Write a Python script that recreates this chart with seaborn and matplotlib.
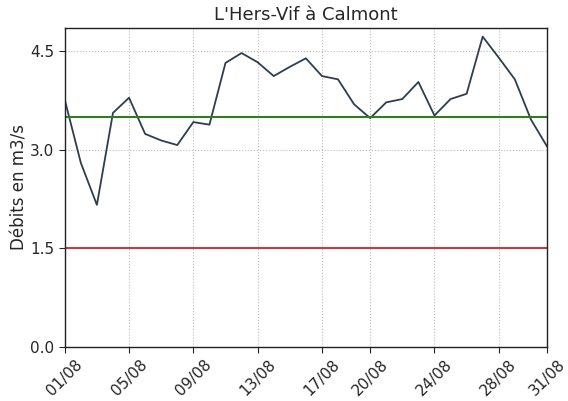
import pandas as pd
import matplotlib
matplotlib.use("Agg")
import matplotlib.pyplot as plt
import seaborn as sns

days = list(range(1, 32))
debits = [3.76, 2.80, 2.16, 3.56, 3.79, 3.24, 3.14, 3.07, 3.42, 3.38,
          4.32, 4.47, 4.33, 4.12, 4.26, 4.39, 4.12, 4.07, 3.69, 3.48,
          3.72, 3.77, 4.03, 3.52, 3.77, 3.85, 4.72, 4.40, 4.07, 3.46, 3.05]
tick_days = [1, 5, 9, 13, 17, 20, 24, 28, 31]
tick_labels = ["01/08", "05/08", "09/08", "13/08", "17/08", "20/08", "24/08", "28/08", "31/08"]
seuil_haut = 3.5
seuil_bas = 1.5

df = pd.DataFrame({"jour": days, "debit": debits})

sns.set_style("white")
plt.rcParams['font.family'] = ['DejaVu Sans']

fig = plt.figure(figsize=(5.68, 4.01), dpi=100)
ax = fig.add_axes([0.114, 0.135, 0.849, 0.795])

sns.lineplot(data=df, x="jour", y="debit", ax=ax, color="#2e3d4f", linewidth=1.3)
ax.axhline(seuil_haut, color="#2f7d1f", linewidth=1.5)
ax.axhline(seuil_bas, color="#d0202a", linewidth=1.3)

ax.set_xlim(1, 31)
ax.set_ylim(0, 4.85)
ax.set_yticks([0.0, 1.5, 3.0, 4.5])
ax.set_xticks(tick_days)
ax.set_xticklabels(tick_labels, rotation=45, ha="center", fontsize=11)
ax.tick_params(axis="y", labelsize=11)
ax.tick_params(axis="both", which="both", direction="out", length=4, left=True, bottom=True)
ax.grid(True, linestyle=":", color="#bbbbbb", linewidth=0.8)
for s in ax.spines.values():
    s.set_color("#222222")
    s.set_linewidth(1.0)

ax.set_title("L'Hers-Vif à Calmont", fontsize=13)
ax.set_xlabel("")
ax.set_ylabel("Débits en m3/s", fontsize=12, labelpad=1)

fig.savefig("out.png", dpi=100)
